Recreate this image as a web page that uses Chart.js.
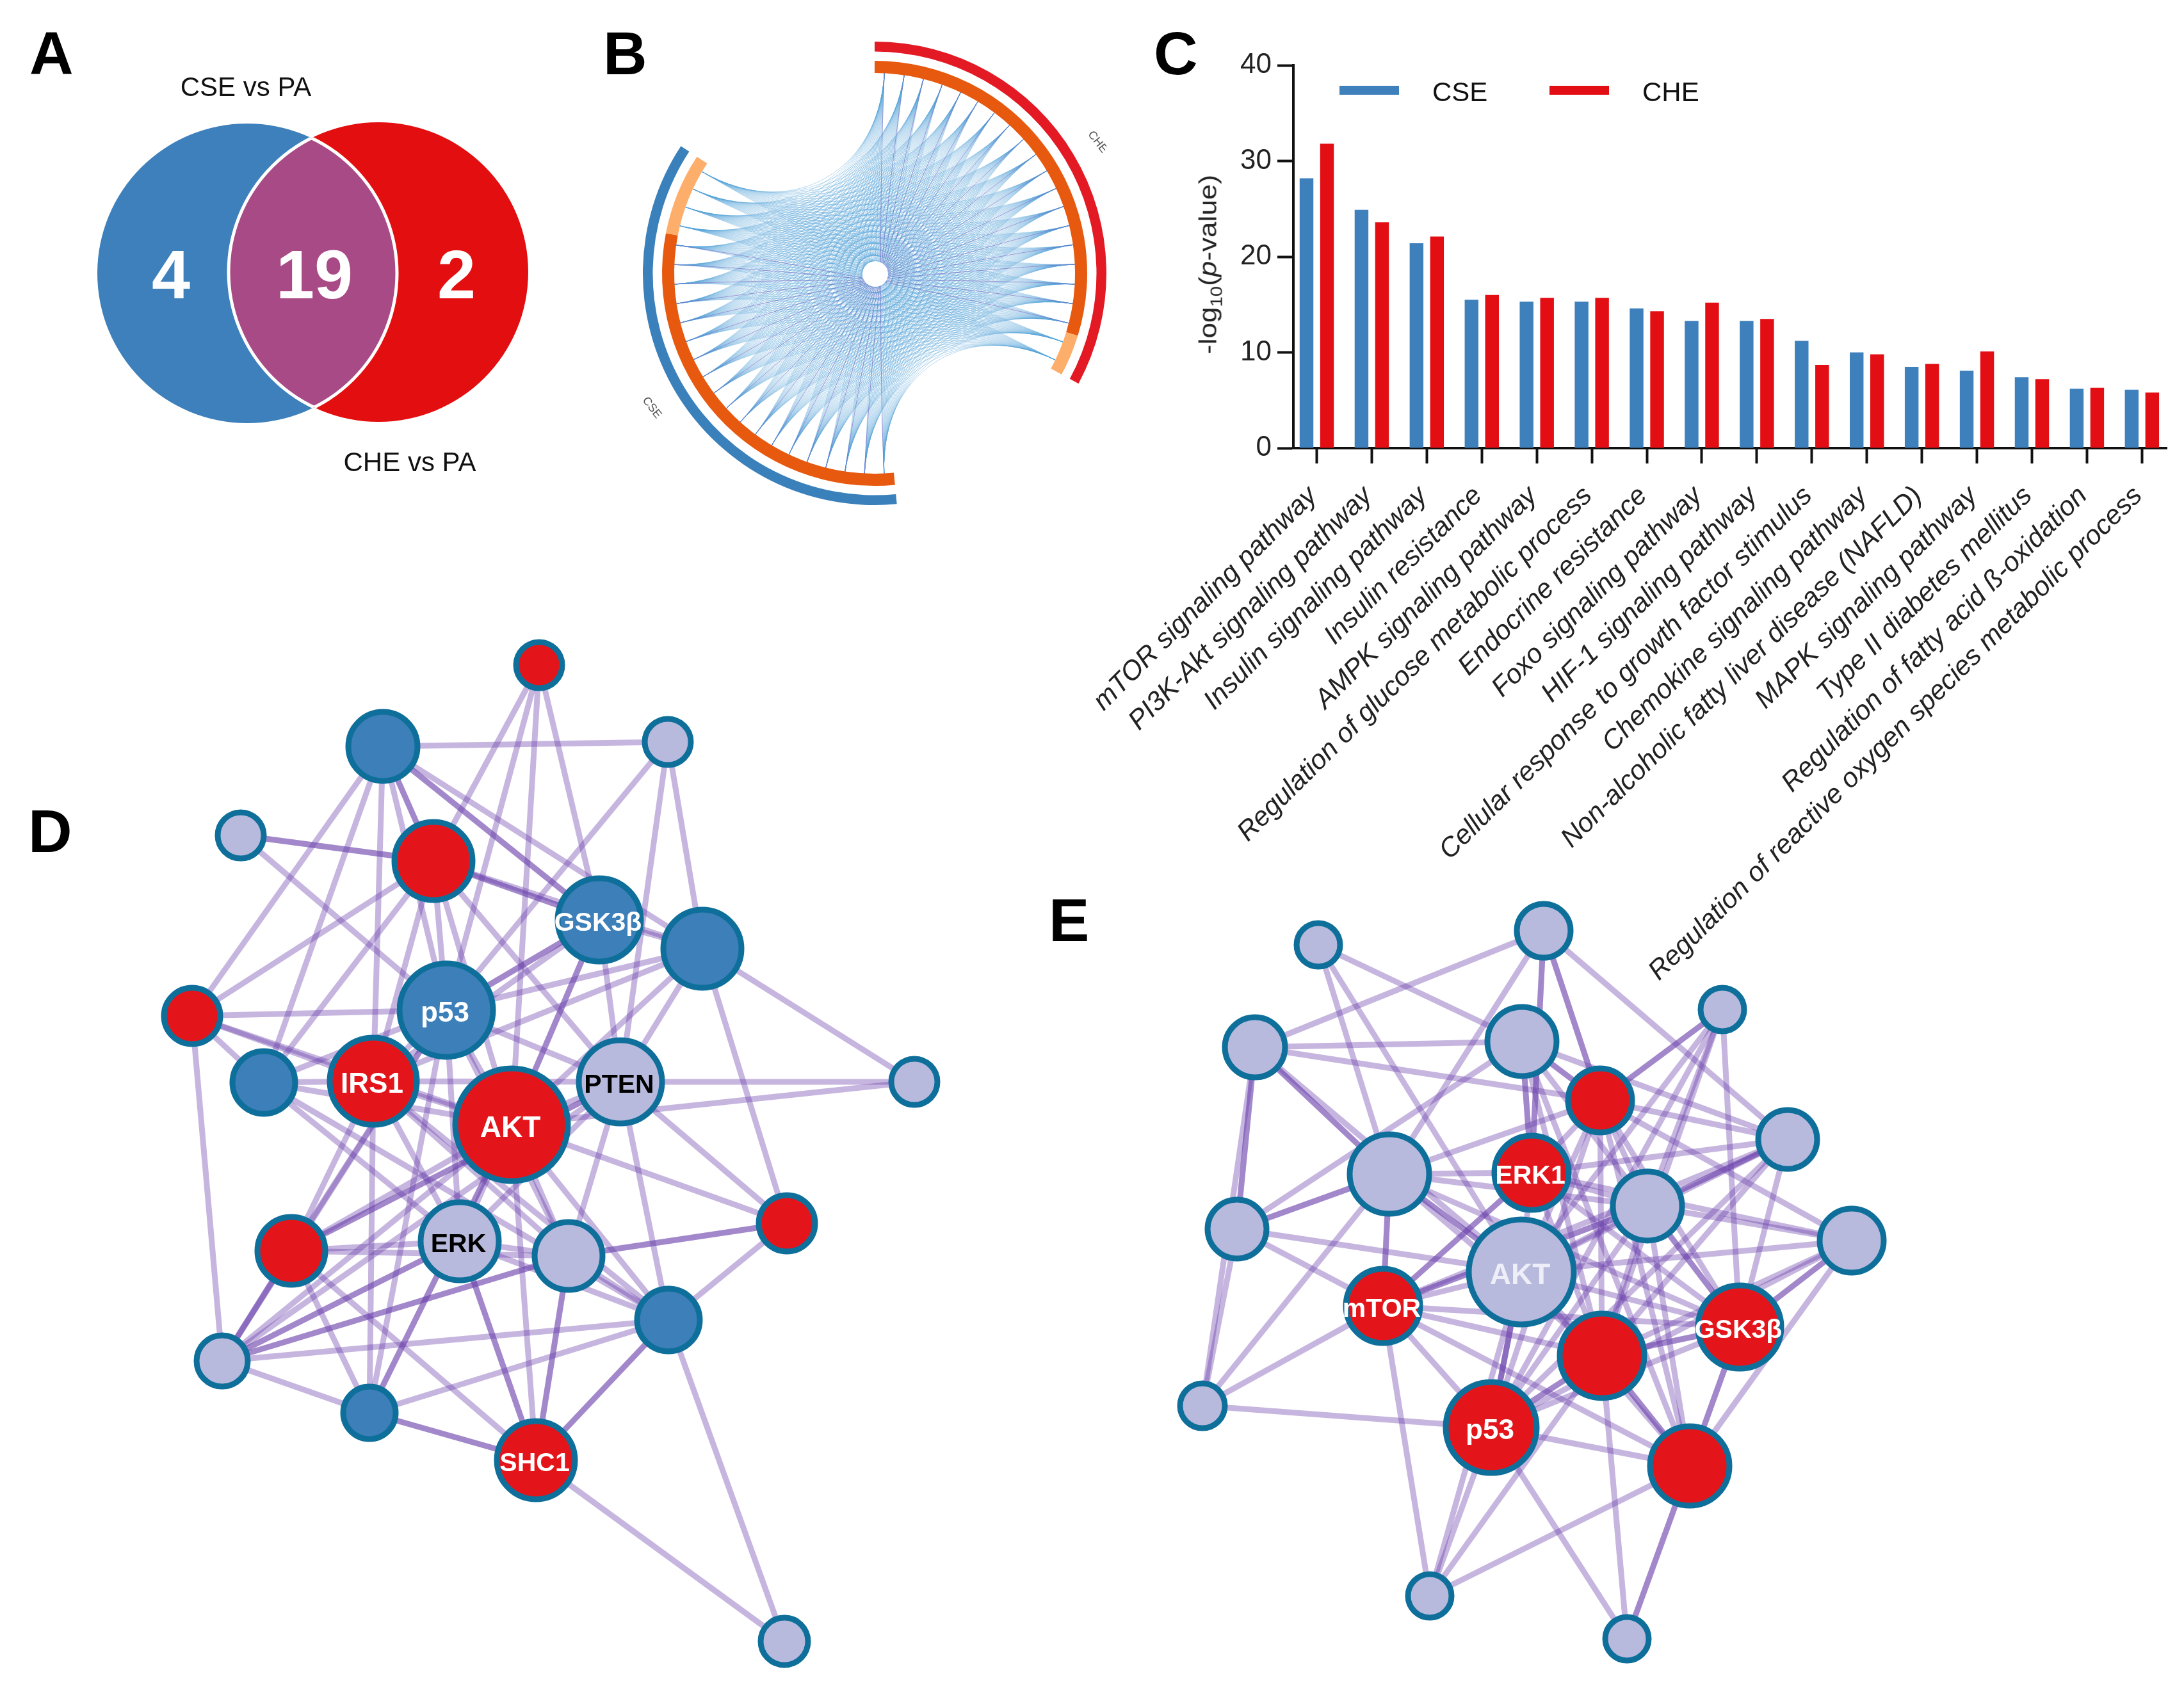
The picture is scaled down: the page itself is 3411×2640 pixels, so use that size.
<!DOCTYPE html>
<html>
<head>
<meta charset="utf-8">
<title>CSE vs CHE</title>
<script src="https://cdn.jsdelivr.net/npm/chart.js@4"></script>
<style>
body { margin: 0; background: #fff; width: 3411px; height: 2640px; position: relative; overflow: hidden; font-family: "Liberation Sans", Arial, sans-serif; }
canvas { position: absolute; }
.letter { position: absolute; font-size: 95px; font-weight: bold; line-height: 1; color: #000; }
#ytitle { position: absolute; left: 1890px; top: 413px; font-size: 39px; color: #222; white-space: nowrap; transform: translate(-50%, -50%) rotate(-90deg) scaleX(1.13); }
#ytitle sub { font-size: 26px; }
</style>
</head>
<body>
<div class="letter" style="left:46px;top:36px">A</div>
<div class="letter" style="left:942px;top:36px">B</div>
<div class="letter" style="left:1802px;top:36px">C</div>
<div class="letter" style="left:44px;top:1251px">D</div>
<div class="letter" style="left:1638px;top:1390px">E</div>
<canvas id="venn" width="900" height="780" style="left:0;top:0"></canvas>
<canvas id="chord" width="724" height="724" style="left:1004px;top:65px"></canvas>
<canvas id="bars" width="1811" height="1640" style="left:1600px;top:0"></canvas>
<canvas id="netD" width="1320" height="1660" style="left:200px;top:980px"></canvas>
<canvas id="netE" width="1200" height="1240" style="left:1800px;top:1400px"></canvas>
<div id="ytitle">-log<sub>10</sub>(<i>p</i>-value)</div>
<script>
Chart.defaults.animation = false;
Chart.defaults.responsive = false;
Chart.defaults.font.family = '"Liberation Sans", Arial, sans-serif';
Chart.defaults.plugins.legend.display = false;
Chart.defaults.plugins.tooltip.enabled = false;
Chart.defaults.layout.autoPadding = false;

const BLUE = '#3c7fb9', RED = '#e3151a', LIGHT = '#b7badc', RING = '#0f6f9b';

// A: venn
const vennCircles = [{ x: 386, y: 427, r: 234 }, { x: 591, y: 425, r: 234 }];
const vennCounts = [{ x: 267, y: 436, text: '4' }, { x: 491, y: 436, text: '19' }, { x: 713, y: 436, text: '2' }];
const vennNames = [{ x: 384, y: 138, text: 'CSE vs PA' }, { x: 640, y: 724, text: 'CHE vs PA' }];

// B: chord, angles in degrees clockwise from the top
const ringOuter = [118.4, 56.1, 128.8, 56.7];
const ringInner = [107.1, 11.3, 56.1, 106.4, 22.4, 56.7];
const cheAngles = [2.8, 8.5, 14.1, 19.7, 25.4, 31, 36.7, 42.3, 48, 53.6, 59.2, 64.9, 70.5, 76.2, 81.8, 87.4, 93.1, 98.7, 104.4, 110, 115.6];
const cseAngles = [177.3, 182.9, 188.5, 194.1, 199.7, 205.3, 210.9, 216.5, 222.1, 227.7, 233.3, 238.9, 244.5, 250.1, 255.7, 261.3, 266.9, 272.5, 278.1, 283.7, 289.3, 294.9, 300.5];

// C: bars
const pathways = ['mTOR signaling pathway', 'PI3K-Akt signaling pathway', 'Insulin signaling pathway', 'Insulin resistance', 'AMPK signaling pathway', 'Regulation of glucose metabolic process', 'Endocrine resistance', 'Foxo signaling pathway', 'HIF-1 signaling pathway', 'Cellular response to growth factor stimulus', 'Chemokine signaling pathway', 'Non-alcoholic fatty liver disease (NAFLD)', 'MAPK signaling pathway', 'Type II diabetes mellitus', 'Regulation of fatty acid ß-oxidation', 'Regulation of reactive oxygen species metabolic process'];
const cseValues = [28.2, 24.9, 21.4, 15.5, 15.3, 15.3, 14.6, 13.3, 13.3, 11.2, 10.0, 8.5, 8.1, 7.4, 6.2, 6.1];
const cheValues = [31.8, 23.6, 22.1, 16.0, 15.7, 15.7, 14.3, 15.2, 13.5, 8.7, 9.8, 8.8, 10.1, 7.2, 6.3, 5.8];

// D: network of CSE targets
const dNodeX = [842, 598, 1043, 376, 677, 936, 1097, 300, 697, 412, 583, 969, 1428, 799, 455, 718, 888, 1229, 1044, 347, 577, 837, 1225];
const dNodeY = [1039, 1166, 1159, 1305, 1345, 1437, 1482, 1587, 1578, 1691, 1689, 1690, 1690, 1757, 1954, 1939, 1962, 1911, 2062, 2126, 2207, 2281, 2564];
const dNodeSize = [36, 54, 36, 36, 61, 65, 61, 44, 73, 49, 68, 65, 36, 88, 53, 61, 53, 44, 49, 40, 41, 61, 37];
const dNodeKind = ['r', 'b', 'l', 'l', 'r', 'b', 'b', 'r', 'b', 'b', 'r', 'l', 'l', 'r', 'r', 'l', 'l', 'r', 'b', 'l', 'b', 'r', 'l'];
const dNodeName = { 5: 'GSK3β', 8: 'p53', 10: 'IRS1', 11: 'PTEN', 13: 'AKT', 15: 'ERK', 21: 'SHC1' };
const dEdges = [[0,4],[0,8],[0,13],[0,5],[1,2],[1,7],[1,9],[1,10],[1,4],[1,4],[1,8],[1,5],[1,5],[1,6],[2,8],[2,6],[2,11],[3,4],[3,4],[3,8],[4,7],[4,9],[4,5],[4,5],[4,6],[4,8],[4,10],[4,13],[4,11],[5,6],[5,8],[5,8],[5,10],[5,13],[5,13],[5,11],[6,8],[6,13],[6,11],[6,12],[6,17],[6,10],[7,8],[7,10],[7,13],[7,9],[7,19],[8,10],[8,13],[8,11],[8,9],[8,15],[8,16],[9,10],[9,13],[9,15],[9,18],[10,13],[10,11],[10,14],[10,15],[10,16],[10,18],[10,20],[11,12],[11,13],[11,17],[11,18],[11,14],[11,16],[11,15],[12,13],[13,14],[13,15],[13,16],[13,17],[13,18],[13,19],[13,20],[13,21],[14,8],[14,11],[14,15],[14,16],[14,19],[14,19],[14,20],[14,21],[15,16],[15,18],[15,19],[15,21],[15,21],[16,17],[16,17],[16,18],[16,21],[16,21],[16,19],[17,18],[18,20],[18,21],[18,21],[18,22],[19,20],[19,15],[19,16],[19,8],[19,11],[19,18],[20,8],[20,13],[20,21],[20,21],[21,22]];

// E: network of CHE targets
const eNodeX = [2059, 2411, 2690, 1960, 2377, 2499, 2792, 2170, 2392, 2573, 1932, 2892, 2376, 2160, 2717, 2502, 1878, 2329, 2639, 2233, 2541];
const eNodeY = [1476, 1454, 1577, 1636, 1627, 1719, 1780, 1834, 1832, 1884, 1920, 1938, 1987, 2040, 2073, 2118, 2196, 2230, 2290, 2493, 2560];
const eNodeSize = [34, 42, 34, 47, 54, 50, 46, 62, 58, 54, 46, 50, 82, 58, 65, 66, 35, 71, 62, 34, 34];
const eNodeKind = ['l', 'l', 'l', 'l', 'l', 'r', 'l', 'l', 'r', 'l', 'l', 'l', 'l', 'r', 'r', 'r', 'l', 'r', 'r', 'l', 'l'];
const eNodeName = { 8: 'ERK1', 12: 'AKT', 13: 'mTOR', 14: 'GSK3β', 17: 'p53' };
const eEdges = [[0,4],[0,7],[0,12],[1,3],[1,5],[1,5],[1,8],[1,8],[1,7],[1,6],[2,5],[2,5],[2,9],[2,14],[2,12],[2,15],[2,17],[3,4],[3,5],[3,7],[3,7],[3,10],[3,10],[3,16],[3,12],[4,5],[4,5],[4,8],[4,8],[4,6],[4,10],[4,15],[4,18],[4,9],[5,7],[5,8],[5,9],[5,11],[5,12],[5,14],[5,6],[5,18],[5,15],[5,17],[6,8],[6,9],[6,9],[6,14],[6,12],[6,13],[6,15],[6,17],[7,8],[7,10],[7,10],[7,12],[7,12],[7,13],[7,13],[7,14],[7,15],[7,16],[7,9],[8,9],[8,12],[8,13],[8,13],[8,14],[8,15],[8,11],[9,11],[9,12],[9,14],[9,14],[9,15],[9,18],[9,13],[9,17],[10,12],[10,13],[10,16],[11,12],[11,14],[11,14],[11,15],[11,17],[11,18],[12,13],[12,14],[12,15],[12,17],[12,17],[12,17],[12,18],[12,19],[13,9],[13,14],[13,15],[13,16],[13,17],[13,18],[13,19],[14,15],[14,15],[14,17],[14,18],[14,18],[15,17],[15,17],[15,18],[15,18],[15,20],[15,19],[16,17],[17,18],[17,19],[17,20],[18,19],[18,20],[18,20]];

const hiddenScale = (min, max, reverse) => ({ type: 'linear', display: false, min: min, max: max, reverse: !!reverse });

// A
const vennPlugin = {
    id: 'vennLens',
    afterDatasetsDraw(chart) {
        const ctx = chart.ctx;
        const pts = chart.getDatasetMeta(0).data;
        const circle = i => { ctx.beginPath(); ctx.arc(pts[i].x, pts[i].y, vennCircles[i].r, 0, Math.PI * 2); };
        ctx.save();
        circle(0); ctx.clip();
        circle(1); ctx.fillStyle = '#a84a85'; ctx.fill();
        ctx.lineWidth = 5; ctx.strokeStyle = '#fff'; ctx.stroke();
        ctx.restore();
        ctx.save();
        circle(1); ctx.clip();
        circle(0); ctx.lineWidth = 5; ctx.strokeStyle = '#fff'; ctx.stroke();
        ctx.restore();
        const { x, y } = chart.scales;
        ctx.textAlign = 'center'; ctx.textBaseline = 'middle';
        ctx.fillStyle = '#fff'; ctx.font = 'bold 108px "Liberation Sans"';
        vennCounts.forEach(c => ctx.fillText(c.text, x.getPixelForValue(c.x), y.getPixelForValue(c.y)));
        ctx.fillStyle = '#111'; ctx.font = '42px "Liberation Sans"';
        vennNames.forEach(c => ctx.fillText(c.text, x.getPixelForValue(c.x), y.getPixelForValue(c.y)));
    }
};
new Chart(document.getElementById('venn'), {
    type: 'bubble',
    data: { datasets: [{ data: vennCircles, backgroundColor: ['#3d80bb', '#e30e10'], borderWidth: 0, clip: false }] },
    options: { scales: { x: hiddenScale(0, 900), y: hiddenScale(0, 780, true) } },
    plugins: [vennPlugin]
});

// B
const chordPlugin = {
    id: 'chords',
    beforeDatasetsDraw(chart) {
        const ctx = chart.ctx;
        const arc = chart.getDatasetMeta(2).data[0];
        const cx = arc.x, cy = arc.y, r = arc.innerRadius;
        const at = (deg, k) => [cx + r * k * Math.sin(deg * Math.PI / 180), cy - r * k * Math.cos(deg * Math.PI / 180)];
        const link = (a, b) => {
            const p0 = at(a, 1), p1 = at(a, 0.5), p2 = at(b, 0.5), p3 = at(b, 1);
            ctx.beginPath(); ctx.moveTo(p0[0], p0[1]);
            ctx.bezierCurveTo(p1[0], p1[1], p2[0], p2[1], p3[0], p3[1]);
            ctx.stroke();
        };
        ctx.save();
        ctx.strokeStyle = 'rgba(88,165,218,0.42)'; ctx.lineWidth = 1;
        cheAngles.forEach(a => cseAngles.forEach(b => link(a, b)));
        ctx.strokeStyle = 'rgba(125,85,190,0.5)'; ctx.lineWidth = 1;
        cheAngles.slice(0, 19).forEach((a, i) => link(a, cseAngles[i]));
        ctx.beginPath(); ctx.arc(cx + 1, cy + 1, 20, 0, Math.PI * 2); ctx.fillStyle = '#fff'; ctx.fill();
        ctx.restore();
    },
    afterDatasetsDraw(chart) {
        const ctx = chart.ctx;
        ctx.save();
        ctx.fillStyle = '#555'; ctx.font = '18px "Liberation Sans"'; ctx.textAlign = 'center'; ctx.textBaseline = 'middle';
        [['CHE', 710, 157, 52], ['CSE', 14, 572, 52]].forEach(l => {
            ctx.save(); ctx.translate(l[1], l[2]); ctx.rotate(l[3] * Math.PI / 180); ctx.fillText(l[0], 0, 0); ctx.restore();
        });
        ctx.restore();
    }
};
new Chart(document.getElementById('chord'), {
    type: 'doughnut',
    data: {
        datasets: [
            { data: ringOuter, backgroundColor: ['#e31a24', 'rgba(0,0,0,0)', '#3a80bb', 'rgba(0,0,0,0)'], borderWidth: 0, weight: 15.5 },
            { data: [360], backgroundColor: ['rgba(0,0,0,0)'], borderWidth: 0, weight: 14.5 },
            { data: ringInner, backgroundColor: ['#e7590f', '#fdae6b', 'rgba(0,0,0,0)', '#e7590f', '#fdae6b', 'rgba(0,0,0,0)'], borderWidth: 0, weight: 19 }
        ]
    },
    options: { cutout: 313 },
    plugins: [chordPlugin]
});

// C
const legendPlugin = {
    id: 'barLegend',
    afterDraw(chart) {
        const ctx = chart.ctx;
        ctx.save();
        ctx.font = '42px "Liberation Sans"'; ctx.textBaseline = 'middle';
        chart.data.datasets.forEach((d, i) => {
            const left = 492 + i * 328;
            ctx.fillStyle = d.backgroundColor; ctx.fillRect(left, 134, 93, 14);
            ctx.fillStyle = '#111'; ctx.fillText(d.label, left + 145, 146);
        });
        ctx.restore();
    }
};
const toPoints = vals => vals.map((v, i) => ({ x: i, y: v }));
new Chart(document.getElementById('bars'), {
    type: 'bar',
    data: {
        datasets: [
            { label: 'CSE', data: toPoints(cseValues), backgroundColor: '#3e80bb', categoryPercentage: 0.745, barPercentage: 0.67 },
            { label: 'CHE', data: toPoints(cheValues), backgroundColor: '#e30e14', categoryPercentage: 0.745, barPercentage: 0.67 }
        ]
    },
    options: {
        layout: { padding: { top: 102, right: 27, bottom: 0, left: 0 } },
        scales: {
            x: {
                type: 'linear', min: -0.425, max: 15.45, offset: false,
                afterFit: s => { s.height = 940; s.paddingLeft = 0; s.paddingRight = 0; },
                grid: { display: true, offset: false, drawOnChartArea: false, tickLength: 24, tickWidth: 4, tickColor: '#111' },
                border: { color: '#111', width: 4 },
                ticks: {
                    stepSize: 1, includeBounds: false, autoSkip: false, minRotation: 45, maxRotation: 45, padding: 26, labelOffset: -6,
                    color: '#222', font: { size: 42.5, style: 'italic' },
                    callback: v => pathways[v]
                }
            },
            y: {
                min: 0, max: 40,
                afterFit: s => { s.width = 420; s.paddingTop = 0; s.paddingBottom = 0; },
                grid: { display: true, drawOnChartArea: false, tickLength: 25, tickWidth: 4, tickColor: '#111' },
                border: { color: '#111', width: 4 },
                ticks: { stepSize: 10, padding: 9, color: '#222', font: { size: 44 } }
            }
        }
    },
    plugins: [legendPlugin]
});

// D and E
const fills = { r: RED, b: BLUE, l: LIGHT };
function drawNetwork(id, box, xs, ys, sizes, kinds, names, edges, textColor) {
    const nodes = xs.map((x, i) => ({ x: x, y: ys[i], r: sizes[i] }));
    const lines = edges.map(e => ({
        type: 'line', order: 1, data: [nodes[e[0]], nodes[e[1]]],
        borderColor: 'rgba(104,62,170,0.38)', borderWidth: 9, pointRadius: 0, borderCapStyle: 'butt', clip: false
    }));
    const labels = {
        id: 'nodeLabels',
        afterDatasetsDraw(chart) {
            const ctx = chart.ctx, sx = chart.scales.x, sy = chart.scales.y;
            ctx.save();
            ctx.textAlign = 'center'; ctx.textBaseline = 'middle';
            Object.keys(names).forEach(k => {
                const big = names[k] === 'AKT';
                ctx.font = 'bold ' + (big ? 46 : names[k] === 'p53' || names[k] === 'IRS1' ? 44 : 41) + 'px "Liberation Sans"';
                ctx.fillStyle = textColor(names[k], kinds[k]);
                ctx.fillText(names[k], sx.getPixelForValue(xs[k]) - 2, sy.getPixelForValue(ys[k]) + 6);
            });
            ctx.restore();
        }
    };
    new Chart(document.getElementById(id), {
        data: {
            datasets: [{
                type: 'bubble', order: 0, data: nodes, clip: false,
                backgroundColor: kinds.map(k => fills[k]), borderColor: RING, borderWidth: 9
            }].concat(lines)
        },
        options: { scales: { x: hiddenScale(box[0], box[0] + box[2]), y: hiddenScale(box[1], box[1] + box[3], true) } },
        plugins: [labels]
    });
}
drawNetwork('netD', [200, 980, 1320, 1660], dNodeX, dNodeY, dNodeSize, dNodeKind, dNodeName, dEdges, (n, k) => k === 'l' ? '#000' : '#fff');
drawNetwork('netE', [1800, 1400, 1200, 1240], eNodeX, eNodeY, eNodeSize, eNodeKind, eNodeName, eEdges, (n, k) => k === 'l' ? '#eeeef8' : '#fff');
</script>
</body>
</html>
